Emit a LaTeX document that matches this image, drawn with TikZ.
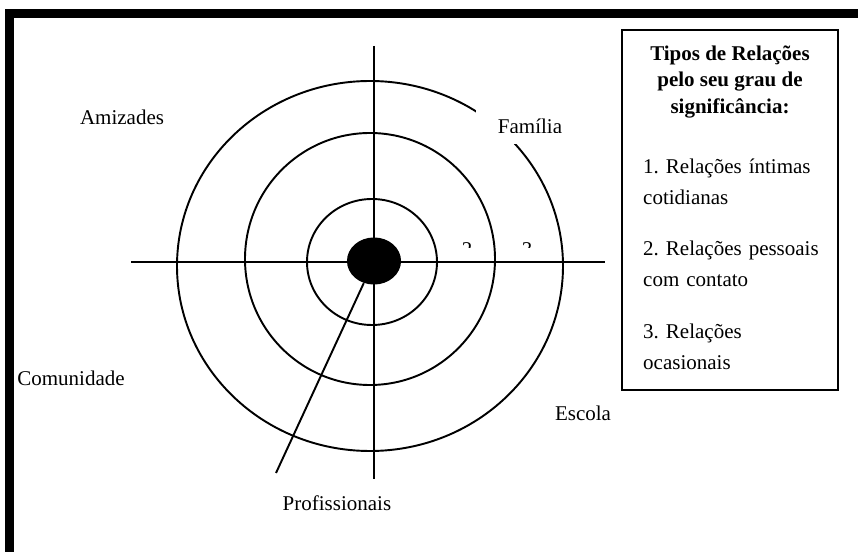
\documentclass[tikz,border=0pt]{standalone}
\usepackage{fontspec}
\setmainfont{Liberation Serif}
\usetikzlibrary{positioning, shapes.geometric}

\begin{document}
\frenchspacing
\begin{tikzpicture}[
    x=0.5714pt, y=-0.5714pt,
    ring/.style={line width=1.1pt},
    axis/.style={line width=1.1pt},
    core/.style={ellipse, fill=black, minimum width=30.9pt, minimum height=26.9pt, inner sep=0pt},
    lbl/.style={font=\fontsize{12}{14}\selectfont, inner sep=0pt},
    legendbox/.style={draw, line width=1pt, minimum width=123.4pt, minimum height=205.7pt, inner sep=0pt},
    legtitle/.style={font=\fontsize{12}{15.1}\selectfont\bfseries, align=center, inner sep=0pt},
    legitem/.style={font=\fontsize{12}{17.7}\selectfont, align=left, text width=112pt, inner sep=0pt},
  ]
  \useasboundingbox (0,0) rectangle (858,552);

  % Frame
  \fill (5,9) rectangle (858,18);
  \fill (5,9) rectangle (14,552);

  % Rings
  \draw[ring] (372,262) ellipse [x radius=65, y radius=63];
  \draw[ring] (370,259) ellipse [x radius=125, y radius=126];
  \draw[ring] (370,266) ellipse [x radius=193, y radius=185];

  % Axes
  \coordinate (west) at (131,262);
  \coordinate (east) at (605,262);
  \coordinate (north) at (374,46);
  \coordinate (south) at (374,479);
  \coordinate (slant) at (276,473);
  \draw[axis] (west) -- (east);
  \draw[axis] (north) -- (south);

  % Centre
  \node[core] (core) at (374,261) {};
  \draw[axis] (core) -- (slant);

  % Ring numbers
  \begin{scope}
    \clip (440,230) rectangle (560,248);
    \node[lbl] (ring2) at (467,250) {2};
    \node[lbl] (ring3) at (527,250) {3};
  \end{scope}

  % Sectors
  \node[lbl] (amizades) at (122,117) {Amizades};
  \fill[white] (476,110) rectangle (568,144);
  \begin{scope}
    \clip (470,100) rectangle (600,132.5);
    \node[lbl] (familia) at (530,126) {Família};
  \end{scope}
  \node[lbl] (comunidade) at (71,378) {Comunidade};
  \node[lbl] (escola) at (583,413) {Escola};
  \node[lbl] (profissionais) at (337,503) {Profissionais};

  % Legend
  \node[legendbox] (legend) at (730,210) {};
  \node[legtitle, below=9.4pt of legend.north] (legtitle) {Tipos de Relações\\pelo seu grau de\\significância:};
  \node[legitem, below=22.8pt of legtitle, xshift=6.4pt] (item1) {1. Relações íntimas\\cotidianas};
  \node[legitem, below=20.3pt of item1] (item2) {2. Relações pessoais\\com contato};
  \node[legitem, below=20.9pt of item2] (item3) {3. Relações\\ocasionais};

\end{tikzpicture}
\end{document}
